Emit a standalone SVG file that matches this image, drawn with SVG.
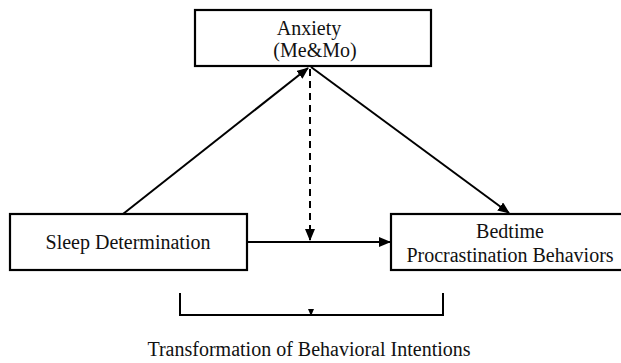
<svg xmlns="http://www.w3.org/2000/svg" width="621" height="363" viewBox="0 0 621 363">
<style>
.box{fill:#fff;stroke:#000;stroke-width:2.2}
.t{font-family:"Liberation Serif",serif;font-size:20px;fill:#111;text-anchor:middle}
.c{stroke:#000;stroke-width:2;fill:none}
</style>
<defs>
<marker id="ah" markerWidth="12" markerHeight="10" refX="11" refY="5" orient="auto" markerUnits="userSpaceOnUse">
<path d="M0,0 L12,5 L0,10 Z" fill="#000"/>
</marker>
<marker id="ahs" markerWidth="6" markerHeight="7" refX="3" refY="7" orient="0" markerUnits="userSpaceOnUse">
<path d="M0,0 L6,0 L3,7 Z" fill="#000"/>
</marker>
</defs>
<rect width="621" height="363" fill="#fff"/>
<g id="connectors">
<line class="c" x1="123" y1="214" x2="308" y2="68" marker-end="url(#ah)"/>
<line class="c" x1="311" y1="67" x2="509" y2="213" marker-end="url(#ah)"/>
<line class="c" x1="310" y1="69" x2="310" y2="240" stroke-dasharray="7,5" marker-end="url(#ah)"/>
<line class="c" x1="247" y1="242" x2="390" y2="242" marker-end="url(#ah)"/>
<polyline class="c" points="180,293 180,315 443,315 443,293"/>
<line class="c" x1="311" y1="315" x2="311" y2="316" marker-end="url(#ahs)"/>
</g>
<g id="anxiety">
<rect class="box" x="195" y="10" width="236" height="56"/>
<text class="t" x="309" y="35">Anxiety</text>
<text class="t" x="315" y="57">(Me&amp;Mo)</text>
</g>
<g id="sleep">
<rect class="box" x="10" y="214" width="237" height="56"/>
<text class="t" x="128" y="249">Sleep Determination</text>
</g>
<g id="bedtime">
<rect class="box" x="391" y="214" width="236" height="56"/>
<text class="t" x="510" y="238">Bedtime</text>
<text class="t" x="510" y="262">Procrastination Behaviors</text>
</g>
<g id="label">
<text class="t" x="309" y="356">Transformation of Behavioral Intentions</text>
</g>
</svg>
